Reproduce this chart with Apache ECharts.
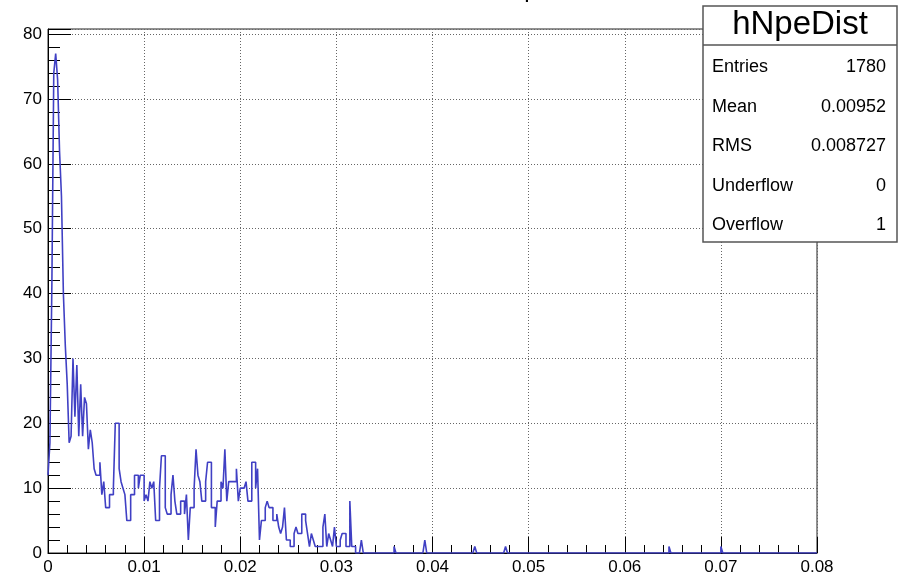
<!DOCTYPE html>
<html>
<head>
<meta charset="utf-8">
<script src="https://cdn.jsdelivr.net/npm/echarts@6/dist/echarts.min.js"></script>
<style>
  html, body { margin: 0; padding: 0; background: #fff; }
  #chart { width: 904px; height: 577px; }
</style>
</head>
<body>
<div id="chart"></div>
<script>
// histogram hNpeDist: 400 bins over [0, 0.08]
const binWidth = 0.0002
const nBins = 400
const xTickLabels = ['0', '0.01', '0.02', '0.03', '0.04', '0.05', '0.06', '0.07', '0.08']

// counts of bins 0..163
const denseCounts = [
  12, 17, 41, 74, 77, 73, 62, 55, 40, 32,
  26, 17, 18, 30, 21, 29, 18, 26, 18, 24,
  23, 16, 19, 17, 13, 12, 12, 14, 9, 11,
  7, 7, 9, 9, 10, 20, 20, 13, 11, 10,
  9, 5, 5, 9, 9, 12, 12, 10, 12, 12,
  8, 9, 8, 11, 10, 11, 5, 5, 10, 15,
  15, 7, 6, 6, 9, 12, 8, 6, 6, 8,
  8, 6, 9, 2, 7, 7, 10, 16, 12, 11,
  8, 8, 11, 14, 14, 7, 7, 4, 8, 8,
  11, 10, 16, 8, 11, 11, 11, 11, 13, 8,
  10, 10, 10, 11, 8, 8, 14, 14, 10, 13,
  2, 5, 5, 7, 8, 7, 7, 5, 5, 6,
  4, 3, 4, 7, 2, 2, 1, 1, 3, 4,
  3, 3, 6, 6, 5, 3, 1, 3, 2, 1,
  1, 1, 1, 4, 6, 1, 3, 2, 1, 4,
  1, 1, 2, 3, 3, 1, 1, 8, 1, 1,
  0, 0, 0, 2
]
// isolated bins further out
const tailBins = [180, 196, 222, 238, 323, 350]
const tailCounts = [1, 2, 1, 1, 1, 1]

const statLabels = ['Entries', 'Mean', 'RMS', 'Underflow', 'Overflow']
const statValues = ['1780', '0.00952', '0.008727', '0', '1']

const counts = new Array(nBins).fill(0)
denseCounts.forEach((c, i) => { counts[i] = c })
tailBins.forEach((b, i) => { counts[b] = tailCounts[i] })

const histPoints = counts.map((c, i) => [+(i * binWidth).toFixed(6), c])
histPoints.push([nBins * binWidth, counts[nBins - 1]])

const font = 'Liberation Sans, Arial, Helvetica, sans-serif'

const statsGraphic = [
  { type: 'rect', shape: { x: 703, y: 6, width: 194, height: 236 },
    style: { fill: '#fff', stroke: '#555', lineWidth: 1.5 }, z: 10 },
  { type: 'line', shape: { x1: 703, y1: 45, x2: 897, y2: 45 },
    style: { stroke: '#555', lineWidth: 1.5 }, z: 11 },
  { type: 'text', x: 800, y: 25, z: 11,
    style: { text: 'hNpeDist', font: '33px ' + font, fill: '#000', textAlign: 'center', textVerticalAlign: 'middle' } },
  // title of the pad, cut off at the top edge
  { type: 'text', x: 507, y: -10, z: 11,
    style: { text: 'Npe', font: '24px ' + font, fill: '#000', textAlign: 'left', textVerticalAlign: 'middle' } },
]
const rowY = [67.5, 107, 146, 186, 225]
statLabels.forEach((lab, i) => {
  statsGraphic.push({ type: 'text', x: 712, y: rowY[i], z: 11,
    style: { text: lab, font: '18px ' + font, fill: '#000', textAlign: 'left', textVerticalAlign: 'middle' } })
  statsGraphic.push({ type: 'text', x: 886, y: rowY[i], z: 11,
    style: { text: statValues[i], font: '18px ' + font, fill: '#000', textAlign: 'right', textVerticalAlign: 'middle' } })
})

const chart = echarts.init(document.getElementById('chart'), null, { renderer: 'canvas' })
chart.setOption({
  backgroundColor: '#fff',
  animation: false,
  grid: {
    left: 48, right: 87, top: 29, bottom: 24,
    show: true, borderColor: '#222', borderWidth: 1, backgroundColor: 'transparent'
  },
  xAxis: {
    type: 'value', min: 0, max: 0.08, interval: 0.01,
    axisLine: { show: true, onZero: false, lineStyle: { color: '#000', width: 1 } },
    axisTick: { show: true, inside: true, length: 16, lineStyle: { color: '#000' } },
    minorTick: { show: true, splitNumber: 5, length: 8, lineStyle: { color: '#000' } },
    splitLine: { show: true, lineStyle: { color: '#666', type: [1, 2], width: 1 } },
    axisLabel: {
      color: '#000', fontFamily: font, fontSize: 17, margin: 6,
      formatter: (v) => xTickLabels[Math.round(v / 0.01)]
    }
  },
  yAxis: {
    type: 'value', min: 0, max: 80.8, interval: 10,
    axisLine: { show: true, onZero: false, lineStyle: { color: '#000', width: 1 } },
    axisTick: { show: true, inside: true, length: 23, lineStyle: { color: '#000' } },
    minorTick: { show: true, splitNumber: 5, length: 12, lineStyle: { color: '#000' } },
    splitLine: { show: true, lineStyle: { color: '#666', type: [1, 2], width: 1 } },
    axisLabel: { color: '#000', fontFamily: font, fontSize: 17, margin: 6, showMaxLabel: false, padding: [4, 0, 0, 0] }
  },
  series: [{
    name: 'hNpeDist',
    type: 'line',
    step: 'end',
    data: histPoints,
    showSymbol: false,
    symbol: 'none',
    lineStyle: { color: '#4040c4', width: 1.6 },
    z: 3
  }],
  graphic: statsGraphic
})
</script>
</body>
</html>
